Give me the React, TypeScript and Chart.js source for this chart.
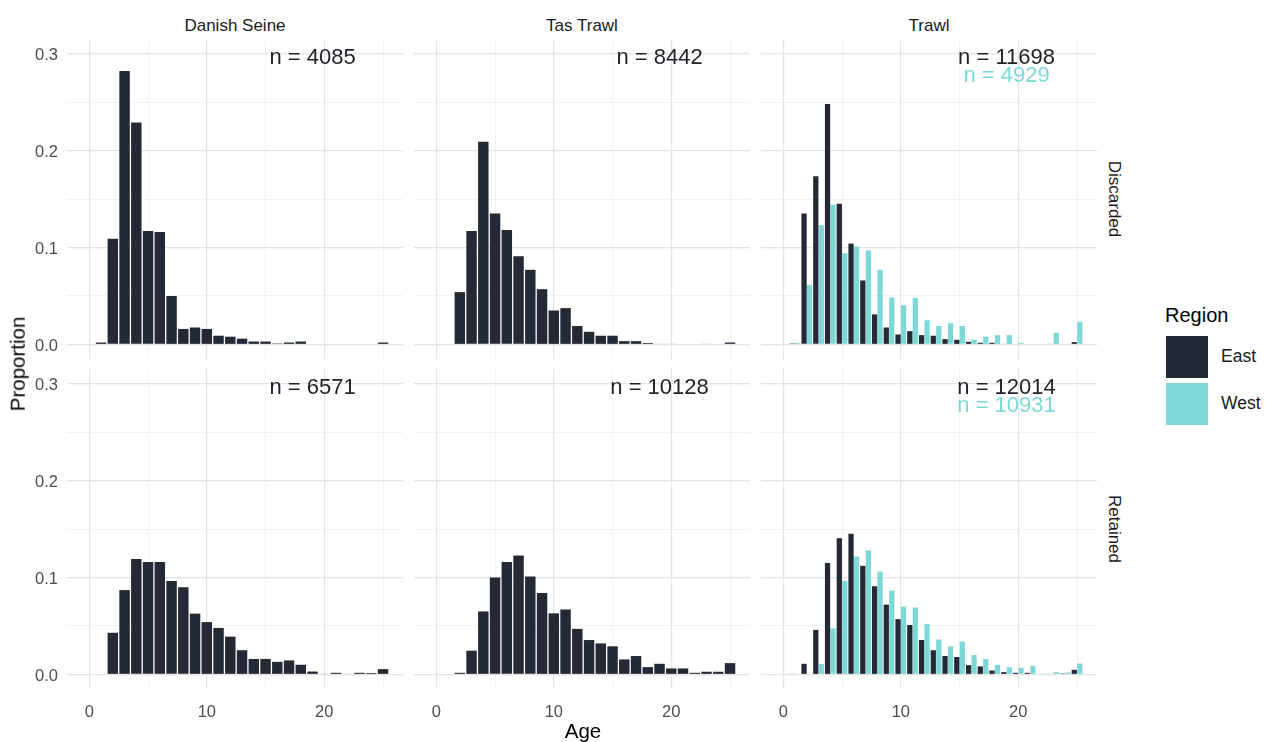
import React, { useEffect, useRef } from "react";
import { Chart, registerables } from "chart.js";

Chart.register(...registerables);

// ---------- data ----------
const ages = [1, 2, 3, 4, 5, 6, 7, 8, 9, 10, 11, 12, 13, 14, 15, 16, 17, 18, 19, 20, 21, 22, 23, 24, 25];

const dsDiscarded = [0.002, 0.109, 0.282, 0.229, 0.117, 0.116, 0.05, 0.016, 0.0175, 0.016, 0.009, 0.008, 0.006, 0.003, 0.003, 0.001, 0.002, 0.003, 0, 0, 0, 0, 0, 0, 0.002];
const ttDiscarded = [0, 0.054, 0.117, 0.209, 0.135, 0.118, 0.091, 0.077, 0.057, 0.035, 0.0375, 0.019, 0.013, 0.009, 0.009, 0.0034, 0.0034, 0.0014, 0.0007, 0.0007, 0, 0, 0.0007, 0, 0.002];
const trDiscardedEast = [0.001, 0.135, 0.1735, 0.248, 0.145, 0.104, 0.066, 0.031, 0.0175, 0.0103, 0.0137, 0.0096, 0.009, 0.0055, 0.0048, 0.0027, 0.0017, 0.0017, 0.0007, 0, 0, 0, 0.0007, 0, 0.0024];
const trDiscardedWest = [0.0017, 0.0615, 0.123, 0.144, 0.094, 0.101, 0.097, 0.077, 0.0485, 0.0405, 0.048, 0.025, 0.019, 0.022, 0.019, 0.005, 0.008, 0.0096, 0.0096, 0.0017, 0.0007, 0, 0.012, 0.0007, 0.0234];

const dsRetained = [0, 0.043, 0.087, 0.119, 0.116, 0.116, 0.0965, 0.09, 0.0627, 0.054, 0.048, 0.039, 0.025, 0.016, 0.016, 0.013, 0.0145, 0.01, 0.003, 0.0007, 0.0017, 0.0007, 0.0017, 0.0014, 0.0055];
const ttRetained = [0, 0.0017, 0.0245, 0.065, 0.1, 0.116, 0.1226, 0.101, 0.084, 0.063, 0.067, 0.047, 0.0355, 0.032, 0.029, 0.0155, 0.019, 0.0076, 0.011, 0.0062, 0.0062, 0.0017, 0.0028, 0.0028, 0.0117];
const trRetainedEast = [0.0007, 0.011, 0.046, 0.115, 0.1405, 0.145, 0.112, 0.091, 0.072, 0.057, 0.051, 0.0355, 0.025, 0.019, 0.018, 0.0096, 0.0083, 0.0041, 0.0024, 0.0017, 0.0017, 0.0007, 0.0007, 0.001, 0.0048];
const trRetainedWest = [0, 0, 0.0107, 0.0475, 0.0965, 0.1216, 0.128, 0.106, 0.0865, 0.07, 0.069, 0.052, 0.036, 0.029, 0.034, 0.02, 0.016, 0.01, 0.0076, 0.0069, 0.009, 0.001, 0.0024, 0.002, 0.0113];

const gears = ["Danish Seine", "Tas Trawl", "Trawl"];
const fates = ["Discarded", "Retained"];
const regions = ["East", "West"];

const nDiscarded = ["n = 4085", "n = 8442", "n = 11698"];
const nDiscardedWest = ["", "", "n = 4929"];
const nRetained = ["n = 6571", "n = 10128", "n = 12014"];
const nRetainedWest = ["", "", "n = 10931"];

const xTickValues = [0, 5, 10, 15, 20, 25];
const xTickLabels = ["0", "", "10", "", "20", ""];
const yTickValues = [0, 0.05, 0.1, 0.15, 0.2, 0.25, 0.3];
const yTickLabels = ["0.0", "", "0.1", "", "0.2", "", "0.3"];

const nLabelX = 19;
const nLabelY = 0.295;
const nLabelYWest = 0.2765;

// ---------- styling ----------
const EAST = "#232a35";
const WEST = "#7ed8d8";
const FONT = '"Liberation Sans", Arial, Helvetica, sans-serif';

const nLabelPlugin = {
  id: "nLabel",
  afterDatasetsDraw(chart: any, _args: any, opts: any) {
    const { ctx } = chart;
    const xs = chart.scales.x;
    const ys = chart.scales.y;
    ctx.save();
    ctx.font = `22px ${FONT}`;
    ctx.textAlign = "center";
    ctx.textBaseline = "middle";
    (opts.items || []).forEach((it: any) => {
      if (!it.text) return;
      ctx.fillStyle = it.color;
      ctx.fillText(it.text, xs.getPixelForValue(it.x), ys.getPixelForValue(it.y));
    });
    ctx.restore();
  },
};

const PANEL_LEFTS = [67, 414, 761];
const PANEL_TOPS = [39, 369];
const PANEL_W = 336;
const PANEL_H = 320;
const LEFT_W = 60;
const BOTTOM_H = 40;

function isMajor(labels: string[], values: number[], v: any) {
  const i = values.indexOf(v);
  return i >= 0 && labels[i] !== "";
}
function gridColor(labels: string[], values: number[]) {
  return (ctx: any) => (isMajor(labels, values, ctx.tick ? ctx.tick.value : null) ? "#e4e4e4" : "#efefef");
}
function gridWidth(labels: string[], values: number[]) {
  return (ctx: any) => (isMajor(labels, values, ctx.tick ? ctx.tick.value : null) ? 1.2 : 0.8);
}

function toPoints(vals: number[]) {
  return ages.map((a, i) => ({ x: a, y: vals[i] }));
}

function zeroPadding(s: any) {
  s.paddingTop = 0;
  s.paddingBottom = 0;
  s.paddingLeft = 0;
  s.paddingRight = 0;
}

export default function App() {
  const refs = useRef<(HTMLCanvasElement | null)[]>([]);

  useEffect(() => {
    const charts: Chart[] = [];
    const panels = [
      { row: 0, col: 0, series: [dsDiscarded], labels: [nDiscarded[0], nDiscardedWest[0]] },
      { row: 0, col: 1, series: [ttDiscarded], labels: [nDiscarded[1], nDiscardedWest[1]] },
      { row: 0, col: 2, series: [trDiscardedEast, trDiscardedWest], labels: [nDiscarded[2], nDiscardedWest[2]] },
      { row: 1, col: 0, series: [dsRetained], labels: [nRetained[0], nRetainedWest[0]] },
      { row: 1, col: 1, series: [ttRetained], labels: [nRetained[1], nRetainedWest[1]] },
      { row: 1, col: 2, series: [trRetainedEast, trRetainedWest], labels: [nRetained[2], nRetainedWest[2]] },
    ];
    panels.forEach((p, idx) => {
      const canvas = refs.current[idx];
      if (!canvas) return;
      const showY = p.col === 0;
      const showX = p.row === 1;
      const dodge = p.series.length > 1;
      const datasets = p.series.map((s, si) => ({
        label: regions[si],
        data: toPoints(s),
        backgroundColor: si === 0 ? EAST : WEST,
        borderWidth: 0,
        categoryPercentage: dodge ? 0.94 : 1,
        barPercentage: dodge ? 0.95 : 0.89,
      }));
      const chart = new Chart(canvas, {
        type: "bar",
        data: { datasets: datasets as any },
        plugins: [nLabelPlugin as any],
        options: {
          animation: false,
          responsive: false,
          maintainAspectRatio: false,
          devicePixelRatio: 1,
          layout: { padding: 0 },
          events: [],
          plugins: {
            legend: { display: false },
            tooltip: { enabled: false },
            nLabel: {
              items: [
                { text: p.labels[0], x: nLabelX, y: nLabelY, color: "#1e2228" },
                { text: p.labels[1], x: nLabelX, y: nLabelYWest, color: WEST },
              ],
            },
          } as any,
          scales: {
            x: {
              type: "linear",
              min: -1.9,
              max: 26.7,
              offset: false,
              afterBuildTicks: (s: any) => {
                s.ticks = xTickValues.map((v) => ({ value: v }));
              },
              afterFit: (s: any) => {
                s.height = showX ? BOTTOM_H : 0;
                zeroPadding(s);
              },
              ticks: {
                display: showX,
                autoSkip: false,
                maxRotation: 0,
                padding: 14,
                color: "#4d4d4d",
                font: { family: FONT, size: 16.5 },
                callback: (v: any) => {
                  const i = xTickValues.indexOf(Number(v));
                  return i >= 0 ? xTickLabels[i] : "";
                },
              },
              grid: {
                offset: false,
                drawTicks: false,
                color: gridColor(xTickLabels, xTickValues),
                lineWidth: gridWidth(xTickLabels, xTickValues),
              },
              border: { display: false },
            },
            y: {
              type: "linear",
              min: -0.015,
              max: 0.315,
              afterBuildTicks: (s: any) => {
                s.ticks = yTickValues.map((v) => ({ value: v }));
              },
              afterFit: (s: any) => {
                s.width = showY ? LEFT_W : 0;
                zeroPadding(s);
              },
              ticks: {
                display: showY,
                autoSkip: false,
                padding: 9,
                labelOffset: 2,
                color: "#4d4d4d",
                font: { family: FONT, size: 16.5 },
                callback: (_v: any, i: number) => yTickLabels[i] ?? "",
              },
              grid: {
                drawTicks: false,
                color: gridColor(yTickLabels, yTickValues),
                lineWidth: gridWidth(yTickLabels, yTickValues),
              },
              border: { display: false },
            },
          },
        } as any,
      });
      charts.push(chart);
    });
    return () => charts.forEach((c) => c.destroy());
  }, []);

  const panelDefs: { row: number; col: number }[] = [];
  for (let r = 0; r < 2; r++) for (let c = 0; c < 3; c++) panelDefs.push({ row: r, col: c });

  const text = (extra: React.CSSProperties): React.CSSProperties => ({
    position: "absolute",
    whiteSpace: "nowrap",
    fontFamily: FONT,
    lineHeight: 1,
    ...extra,
  });

  return (
    <div style={{ position: "fixed", left: 0, top: 0, width: 1273, height: 742, background: "#fff", overflow: "hidden" }}>
      {panelDefs.map((p, idx) => {
        const showY = p.col === 0;
        const showX = p.row === 1;
        const w = PANEL_W + (showY ? LEFT_W : 0);
        const h = PANEL_H + (showX ? BOTTOM_H : 0);
        const left = PANEL_LEFTS[p.col] - (showY ? LEFT_W : 0);
        const top = PANEL_TOPS[p.row];
        return (
          <div key={idx} style={{ position: "absolute", left, top, width: w, height: h }}>
            <canvas
              ref={(el) => {
                refs.current[idx] = el;
              }}
              width={w}
              height={h}
              style={{ width: w, height: h, display: "block" }}
            />
          </div>
        );
      })}

      {gears.map((g, i) => (
        <div
          key={g}
          style={text({
            left: PANEL_LEFTS[i] + PANEL_W / 2,
            top: 25,
            transform: "translate(-50%, -50%)",
            fontSize: 17,
            color: "#1a1a1a",
          })}
        >
          {g}
        </div>
      ))}

      {fates.map((f, i) => (
        <div
          key={f}
          style={text({
            left: 1114,
            top: PANEL_TOPS[i] + PANEL_H / 2,
            transform: "translate(-50%, -50%) rotate(90deg)",
            fontSize: 17,
            color: "#1a1a1a",
          })}
        >
          {f}
        </div>
      ))}

      <div style={text({ left: 583, top: 731, transform: "translate(-50%, -50%)", fontSize: 20.5, color: "#000" })}>Age</div>
      <div
        style={text({
          left: 18,
          top: 364,
          transform: "translate(-50%, -50%) rotate(-90deg)",
          fontSize: 20.5,
          color: "#000",
        })}
      >
        Proportion
      </div>

      <div style={text({ left: 1165, top: 315, transform: "translateY(-50%)", fontSize: 20, color: "#000" })}>Region</div>
      {regions.map((r, i) => (
        <React.Fragment key={r}>
          <div
            style={{
              position: "absolute",
              left: 1166,
              top: 336 + i * 46.5,
              width: 42,
              height: 42,
              background: i === 0 ? EAST : WEST,
            }}
          />
          <div
            style={text({
              left: 1221,
              top: 357 + i * 46.5,
              transform: "translateY(-50%)",
              fontSize: 17.5,
              color: "#1a1a1a",
            })}
          >
            {r}
          </div>
        </React.Fragment>
      ))}
    </div>
  );
}
